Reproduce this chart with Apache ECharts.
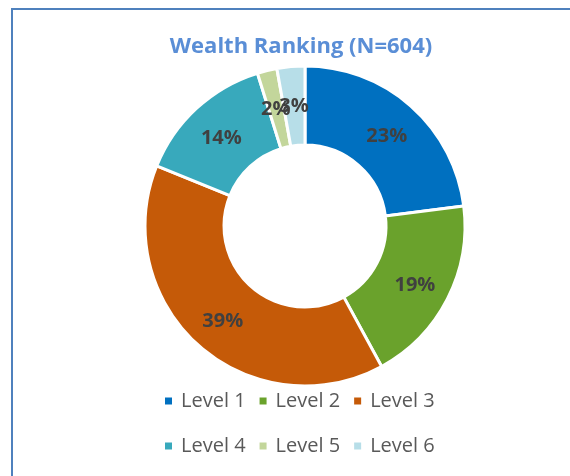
<!DOCTYPE html>
<html>
<head>
<meta charset="utf-8">
<script src="https://cdn.jsdelivr.net/npm/echarts@6/dist/echarts.min.js"></script>
<style>
  html, body { margin: 0; padding: 0; background: #fff; }
  #chart { width: 570px; height: 476px; }
</style>
</head>
<body>
<div id="chart"></div>
<script>
    // 数据
    let levels = ['Level 1', 'Level 2', 'Level 3', 'Level 4', 'Level 5', 'Level 6'];
    let counts = [139, 115, 236, 85, 12, 17];  // N=604
    let colors = ['#0070c0', '#6aa22c', '#c55a08', '#38a9bc', '#c3d69b', '#b7dee8'];

    let chart = echarts.init(document.getElementById('chart'));

    let pieData = levels.map(function (name, i) {
        return { name: name, value: counts[i], itemStyle: { color: colors[i] } };
    });

    let legendText = {
        color: '#595959',
        fontSize: 20,
        fontFamily: 'Open Sans',
        padding: [0, 0, 0, 3]
    };

    let option = {
        animation: false,
        graphic: [{
            type: 'rect',
            shape: { x: 12, y: 9, width: 600, height: 520 },
            style: { fill: 'none', stroke: '#4f81bd', lineWidth: 2 }
        }],
        title: {
            text: 'Wealth Ranking (N=604)',
            left: 296,
            textAlign: 'center',
            top: 31,
            textStyle: {
                color: '#5a8ed6',
                fontSize: 22,
                fontWeight: 'bold',
                fontFamily: 'Open Sans'
            }
        },
        legend: [{
            data: levels.slice(0, 3),
            left: 158,
            top: 386,
            itemWidth: 9,
            itemHeight: 9,
            itemGap: 12,
            icon: 'rect',
            textStyle: legendText
        }, {
            data: levels.slice(3),
            left: 158,
            top: 431,
            itemWidth: 9,
            itemHeight: 9,
            itemGap: 12,
            icon: 'rect',
            textStyle: legendText
        }],
        series: [{
            name: 'Wealth Ranking',
            type: 'pie',
            center: [305, 226],
            radius: [81, 160],
            startAngle: 90,
            clockwise: true,
            avoidLabelOverlap: false,
            itemStyle: { borderColor: '#fff', borderWidth: 3 },
            label: {
                show: true,
                position: 'inside',
                formatter: function (p) { return Math.round(p.percent) + '%'; },
                color: '#404040',
                fontSize: 20,
                fontWeight: 'bold',
                fontFamily: 'Open Sans',
                offset: [0, 3]
            },
            labelLayout: { hideOverlap: false },
            labelLine: { show: false },
            data: pieData
        }]
    };
    chart.setOption(option);
</script>
</body>
</html>
